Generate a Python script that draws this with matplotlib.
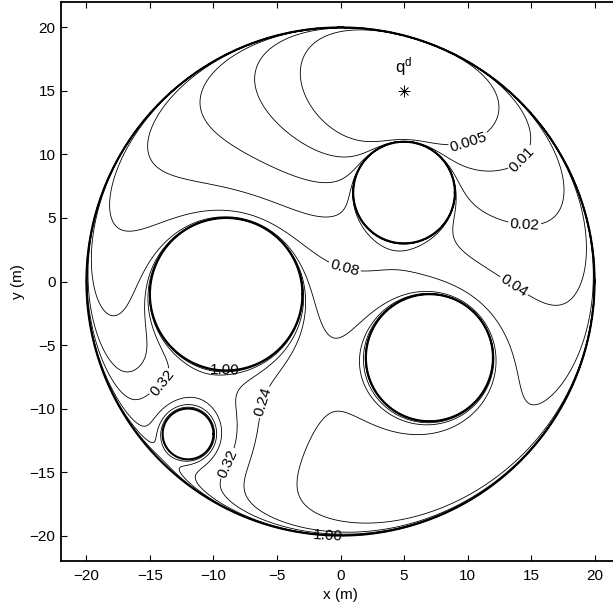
import numpy as np
import matplotlib.pyplot as plt

plt.rcParams['font.family'] = ['Liberation Sans', 'DejaVu Sans']
plt.rcParams['font.size'] = 11

# world (circle) and obstacles
r_world = 20.0
obs_x = [-9.0, 5.0, 7.0, -12.0]
obs_y = [-1.0, 7.0, -6.0, -12.0]
obs_r = [6.0, 4.0, 5.0, 2.0]
goal = [5.0, 15.0]
kappa = 3.0

label_levels = [0.005, 0.01, 0.02, 0.04, 0.08, 0.24, 0.32, 1.0]
other_levels = [0.16, 0.48, 0.64, 0.8]

# navigation function (Rimon-Koditschek)
x = np.linspace(-20.5, 20.5, 900)
y = np.linspace(-20.5, 20.5, 900)
X, Y = np.meshgrid(x, y)
gamma = (X - goal[0])**2 + (Y - goal[1])**2
b0 = r_world**2 - X**2 - Y**2
beta = b0.copy()
free = b0 > 0
for cx, cy, r in zip(obs_x, obs_y, obs_r):
    bi = (X - cx)**2 + (Y - cy)**2 - r**2
    beta = beta * bi
    free &= bi > 0
beta = np.where(free, beta, 0.0)
phi = gamma / (gamma**kappa + beta)**(1.0 / kappa)
phi = np.where(free, phi, 1.2)

fig = plt.figure(figsize=(6.13, 6.10), dpi=100)
ax = fig.add_axes([61/613, 49/610, 559/613, 559/610])

ax.contour(X, Y, phi, levels=other_levels, colors='k', linewidths=0.6)
cs = ax.contour(X, Y, phi, levels=label_levels, colors='k', linewidths=0.6)
ax.clabel(cs, fmt=lambda v: '%.3f' % v if v < 0.01 else '%.2f' % v,
          fontsize=11, inline=True, inline_spacing=3,
          manual=[(10.0, 11.3), (15.0, 8.9), (14.5, 4.6), (13.3, -0.9), (0.3, 1.0),
                  (-6, -9.5), (-13.5, -8.5), (-8.5, -14.5), (-9.1, -6.9), (-1, -20)])

t = np.linspace(0, 2*np.pi, 400)
ax.plot(r_world*np.cos(t), r_world*np.sin(t), 'k', lw=1.5)
for cx, cy, r in zip(obs_x, obs_y, obs_r):
    ax.plot(cx + r*np.cos(t), cy + r*np.sin(t), 'k', lw=1.5)

# goal marker (asterisk)
ax.plot(goal[0], goal[1], 'k+', ms=8, mew=0.7)
ax.plot(goal[0], goal[1], 'kx', ms=6, mew=0.7)
ax.text(goal[0], goal[1] + 1.0, '$\\mathregular{q^d}$', ha='center', va='bottom', fontsize=12)

ax.set_xlim(-22, 22)
ax.set_ylim(-22, 22)
ax.set_xticks(np.arange(-20, 21, 5))
ax.set_yticks(np.arange(-20, 21, 5))
ax.tick_params(direction='in', length=4, top=True, right=True, labelsize=11)
ax.tick_params(axis='x', pad=6)
ax.tick_params(axis='y', pad=4)
for s in ax.spines.values():
    s.set_linewidth(1.3)
ax.set_xlabel('x (m)', labelpad=3)
ax.set_ylabel('y (m)', labelpad=3)

fig.savefig('out.png', dpi=100)
